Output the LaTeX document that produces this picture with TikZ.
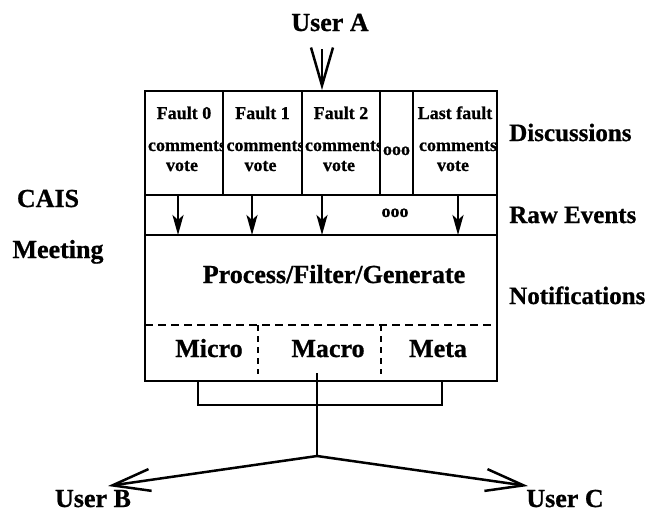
\documentclass[tikz,border=0pt]{standalone}
\usepackage{fontspec}
\setmainfont{Liberation Serif}[BoldFeatures={FakeBold=0.8}]
\usetikzlibrary{arrows.meta}
\begin{document}
\begin{tikzpicture}[x=1pt,y=-1pt,line width=2.5pt,
  big/.style={font=\fontsize{26}{30}\selectfont\bfseries,inner sep=0pt,anchor=base},
  bigw/.style={font=\fontsize{25}{30}\selectfont\bfseries,inner sep=0pt,anchor=base west},
  small/.style={font=\fontsize{18}{20}\selectfont\bfseries,inner sep=0pt,anchor=base},
  bigarrow/.style={-{Straight Barb[length=38pt,width=22pt,line width=2.5pt]}},
  evarrow/.style={-{Stealth[length=20pt,width=11pt,inset=5pt]}},
  dashline/.style={dash pattern=on 8pt off 5pt},
  dashvert/.style={dash pattern=on 6pt off 5pt}]
\useasboundingbox (0,0) rectangle (652,520);
% main box
\coordinate (tl) at (145,91);
\coordinate (br) at (497,381);
\draw (tl) rectangle (br);
\draw (145,195) -- (497,195);
\draw (145,235) -- (497,235);
\foreach \x in {223,302,380,413} \draw (\x,91) -- (\x,195);
% fault cells
\foreach \l/\r/\t [count=\i] in {145/223/Fault 0,223/302/Fault 1,302/380/Fault 2,413/497/Last fault}{
  \begin{scope}
    \clip (\l+1.2,92) rectangle (\r-1.2,194);
    \node[small] (f\i) at ({(\l+\r)/2},119) {\t};
    \node[small] (c\i) at ({(\l+\r)/2+3},151) {comments};
    \node[small] (v\i) at ({(\l+\r)/2-2},171) {vote};
  \end{scope}}
\node[small] (dots1) at (396.5,155) {ooo};
% raw events arrows
\foreach \x [count=\i] in {178,252,322,458}{
  \coordinate (et\i) at (\x,195);
  \coordinate (eb\i) at (\x,235);
  \draw[evarrow] (et\i) -- (eb\i);}
\node[small] (dots2) at (395,217) {ooo};
% process
\node[big] (proc) at (334,283) {Process/Filter/Generate};
\draw[dashline] (145,325) -- (497,325);
\draw[dashvert] (258,325) -- (258,374);
\draw[dashvert] (381,325) -- (381,374);
\node[big] (micro) at (209,357) {Micro};
\node[big] (macro) at (328,357) {Macro};
\node[big] (meta) at (438,357) {Meta};
% bracket
\draw (198,381) -- (198,405) -- (442,405) -- (442,381);
% user A
\node[big] (userA) at (330,31) {User A};
\coordinate (aTop) at (322,49);
\coordinate (aTip) at (322,90);
\draw[bigarrow] (aTop) -- (aTip);
% output
\coordinate (cTop) at (317,373);
\coordinate (junc) at (317,456);
\coordinate (bTip) at (108,486);
\coordinate (cTip) at (528,486);
\draw (cTop) -- (junc);
\draw[bigarrow] (junc) -- (bTip);
\draw[bigarrow] (junc) -- (cTip);
\node[big] (userB) at (93,507) {User B};
\node[big] (userC) at (565,507) {User C};
% side labels
\node[big] (cais) at (48,207) {CAIS};
\node[big] (meeting) at (58,258) {Meeting};
\node[bigw] (disc) at (508,141) {Discussions};
\node[bigw] (raw) at (508,223) {Raw Events};
\node[bigw] (notif) at (508,304) {Notifications};
\end{tikzpicture}
\end{document}
